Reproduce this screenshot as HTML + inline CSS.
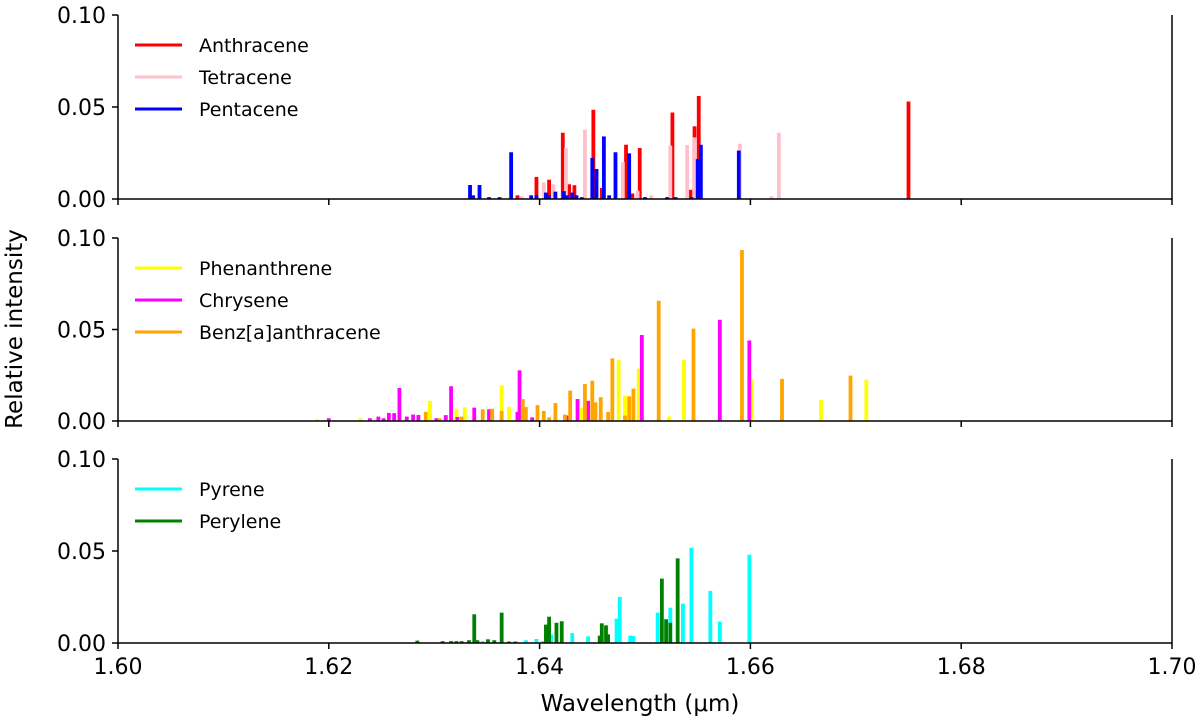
<!DOCTYPE html>
<html><head><meta charset="utf-8"><style>
html,body{margin:0;padding:0;background:#fff;}
svg{display:block;font-family:"DejaVu Sans","Liberation Sans",sans-serif;}
</style></head><body>
<svg id="chart" width="1200" height="724" viewBox="0 0 1200 724" xmlns="http://www.w3.org/2000/svg"></svg>
<script>
// ---- data ----
const xTicks = [1.60, 1.62, 1.64, 1.66, 1.68, 1.70];
const xTickLabels = ["1.60", "1.62", "1.64", "1.66", "1.68", "1.70"];
const yTicks = [0, 0.05, 0.10];
const yTickLabels = ["0.00", "0.05", "0.10"];

const anthraceneWl = [1.6379,1.6397,1.6409,1.6422,1.6428,1.6433,1.6451,1.6459,1.6482,1.6488,1.6495,1.6526,1.6543,1.6547,1.6551,1.6750];
const anthraceneVal = [0.002,0.012,0.0105,0.036,0.008,0.0075,0.0485,0.006,0.0295,0.003,0.0277,0.047,0.005,0.0395,0.056,0.053];
const tetraceneWl = [1.6383,1.6404,1.6413,1.6425,1.6443,1.6479,1.6493,1.6506,1.6524,1.6540,1.6547,1.6590,1.6620,1.6627];
const tetraceneVal = [0.0015,0.009,0.008,0.0277,0.0377,0.02,0.0045,0.002,0.029,0.0293,0.0335,0.03,0.0015,0.036];
const pentaceneWl = [1.6334,1.6337,1.6343,1.6352,1.6362,1.6373,1.6392,1.6397,1.6406,1.6409,1.6415,1.6423,1.6426,1.6431,1.6435,1.6440,1.6450,1.6454,1.6461,1.6466,1.6472,1.6485,1.6500,1.6521,1.6529,1.6544,1.6550,1.6553,1.6589];
const pentaceneVal = [0.0076,0.002,0.0076,0.001,0.001,0.0254,0.002,0.002,0.0035,0.002,0.004,0.0043,0.002,0.0035,0.002,0.001,0.0223,0.0163,0.034,0.002,0.0254,0.0248,0.001,0.001,0.001,0.001,0.0217,0.0295,0.0263];

const phenanthreneWl = [1.6189,1.6230,1.6296,1.6321,1.6329,1.6364,1.6371,1.6440,1.6475,1.6481,1.6494,1.6523,1.6537,1.6601,1.6667,1.6710];
const phenanthreneVal = [0.001,0.0015,0.011,0.0067,0.0075,0.0195,0.0077,0.007,0.0333,0.0138,0.0286,0.0025,0.0333,0.0228,0.0115,0.0226];
const chryseneWl = [1.6200,1.6239,1.6247,1.6252,1.6257,1.6262,1.6267,1.6274,1.6280,1.6285,1.6302,1.6311,1.6316,1.6322,1.6338,1.6352,1.6379,1.6381,1.6393,1.6426,1.6436,1.6446,1.6497,1.6571,1.6599];
const chryseneVal = [0.0015,0.0015,0.0024,0.0015,0.0044,0.0043,0.018,0.0024,0.0035,0.0033,0.0015,0.0032,0.019,0.0022,0.0073,0.0064,0.005,0.0277,0.002,0.003,0.012,0.011,0.047,0.0553,0.044];
const benzWl = [1.6292,1.6305,1.6326,1.6346,1.6355,1.6364,1.6384,1.6387,1.6398,1.6404,1.6409,1.6415,1.6424,1.6429,1.6443,1.6450,1.6453,1.6458,1.6465,1.6469,1.6481,1.6485,1.6489,1.6513,1.6546,1.6592,1.6630,1.6695];
const benzVal = [0.005,0.0015,0.0024,0.0064,0.0067,0.0055,0.012,0.0076,0.0087,0.0055,0.002,0.0098,0.0035,0.0166,0.0202,0.022,0.0102,0.013,0.005,0.0342,0.003,0.0135,0.0177,0.0657,0.0505,0.0934,0.023,0.0248];

const pyreneWl = [1.6346,1.6387,1.6397,1.6403,1.6411,1.6431,1.6446,1.6473,1.6476,1.6486,1.6489,1.6512,1.6524,1.6536,1.6544,1.6562,1.6571,1.6599];
const pyreneVal = [0.001,0.0015,0.0022,0.001,0.0047,0.0054,0.0036,0.0132,0.025,0.004,0.0038,0.0165,0.0192,0.0214,0.0518,0.0283,0.0116,0.048];
const peryleneWl = [1.6284,1.6308,1.6316,1.6321,1.6326,1.6333,1.6338,1.6341,1.6351,1.6357,1.6364,1.6371,1.6377,1.6406,1.6409,1.6416,1.6421,1.6457,1.6459,1.6463,1.6465,1.6516,1.6520,1.6524,1.6531];
const peryleneVal = [0.0013,0.001,0.001,0.001,0.001,0.0015,0.0156,0.0015,0.002,0.0015,0.0165,0.0008,0.0008,0.01,0.0143,0.011,0.0118,0.004,0.0107,0.0096,0.0047,0.035,0.0129,0.011,0.046];

const panels = [
  {name:"top", y0:199, y1:15, series:[
    {name:"Anthracene", color:"#ff0000", wl:anthraceneWl, val:anthraceneVal},
    {name:"Tetracene", color:"#ffc0cb", wl:tetraceneWl, val:tetraceneVal},
    {name:"Pentacene", color:"#0000ff", wl:pentaceneWl, val:pentaceneVal}]},
  {name:"middle", y0:421, y1:238, series:[
    {name:"Phenanthrene", color:"#ffff00", wl:phenanthreneWl, val:phenanthreneVal},
    {name:"Chrysene", color:"#ff00ff", wl:chryseneWl, val:chryseneVal},
    {name:"Benz[a]anthracene", color:"#ffa500", wl:benzWl, val:benzVal}]},
  {name:"bottom", y0:643, y1:459, series:[
    {name:"Pyrene", color:"#00ffff", wl:pyreneWl, val:pyreneVal},
    {name:"Perylene", color:"#008000", wl:peryleneWl, val:peryleneVal}]}
];

const NS = "http://www.w3.org/2000/svg";
const svg = document.getElementById("chart");
const X0 = 118, X1 = 1172;
const xs = w => X0 + (w - 1.60) / 0.10 * (X1 - X0);
const barW = 0.00036;
function mk(tag, attrs, parent){
  const e = document.createElementNS(NS, tag);
  for (const k in attrs) e.setAttribute(k, attrs[k]);
  (parent||svg).appendChild(e);
  return e;
}

panels.forEach((p, pi) => {
  const ys = v => p.y0 - v / 0.10 * (p.y0 - p.y1);
  const g = mk("g", {});
  
  
  p.series.forEach(s => {
    const sg = mk("g", {}, g);
    
    
    s.wl.forEach((w, i) => {
      const xl = xs(w - barW/2), xr = xs(w + barW/2);
      const r = mk("rect", {x:xl, y:ys(s.val[i]), width:xr-xl, height:p.y0-ys(s.val[i]), fill:s.color}, sg);
      
      
    });
  });
  // spines
  const sp = mk("path", {d:`M${X0},${p.y1} V${p.y0} H${X1} V${p.y1}`, fill:"none", stroke:"#000", "stroke-width":1.5}, g);
  
  
  // y ticks
  yTicks.forEach((v, i) => {
    const y = ys(v);
    const t = mk("line", {x1:X0-6, x2:X0, y1:y, y2:y, stroke:"#000", "stroke-width":1.5}, g);
    
    
    const tl = mk("text", {x:X0-12, y:y+8, "text-anchor":"end", "font-size":22}, g);
    tl.textContent = yTickLabels[i];
    
    
  });
  // x ticks
  xTicks.forEach((v, i) => {
    const x = xs(v);
    const t = mk("line", {x1:x, x2:x, y1:p.y0, y2:p.y0+6, stroke:"#000", "stroke-width":1.5}, g);
    
    
    if (pi === 2) {
      const tl = mk("text", {x:x, y:p.y0+31, "text-anchor":"middle", "font-size":22}, g);
      tl.textContent = xTickLabels[i];
      
      
    }
  });
  // legend
  const lg = mk("g", {}, g);
  
  
  p.series.forEach((s, i) => {
    const y = p.y1 + 30 + i * 32;
    const ln = mk("line", {x1:135, x2:182, y1:y, y2:y, stroke:s.color, "stroke-width":3}, lg);
    
    
    const tx = mk("text", {x:199, y:y+7, "font-size":19}, lg);
    tx.textContent = s.name;
    
    
  });
});

const xl = mk("text", {x:640, y:711, "text-anchor":"middle", "font-size":23});
xl.textContent = "Wavelength (\u03BCm)";


const yl = mk("text", {x:0, y:0, "text-anchor":"middle", "font-size":23, transform:"translate(22,329) rotate(-90)"});
yl.textContent = "Relative intensity";


</script>
</body></html>
